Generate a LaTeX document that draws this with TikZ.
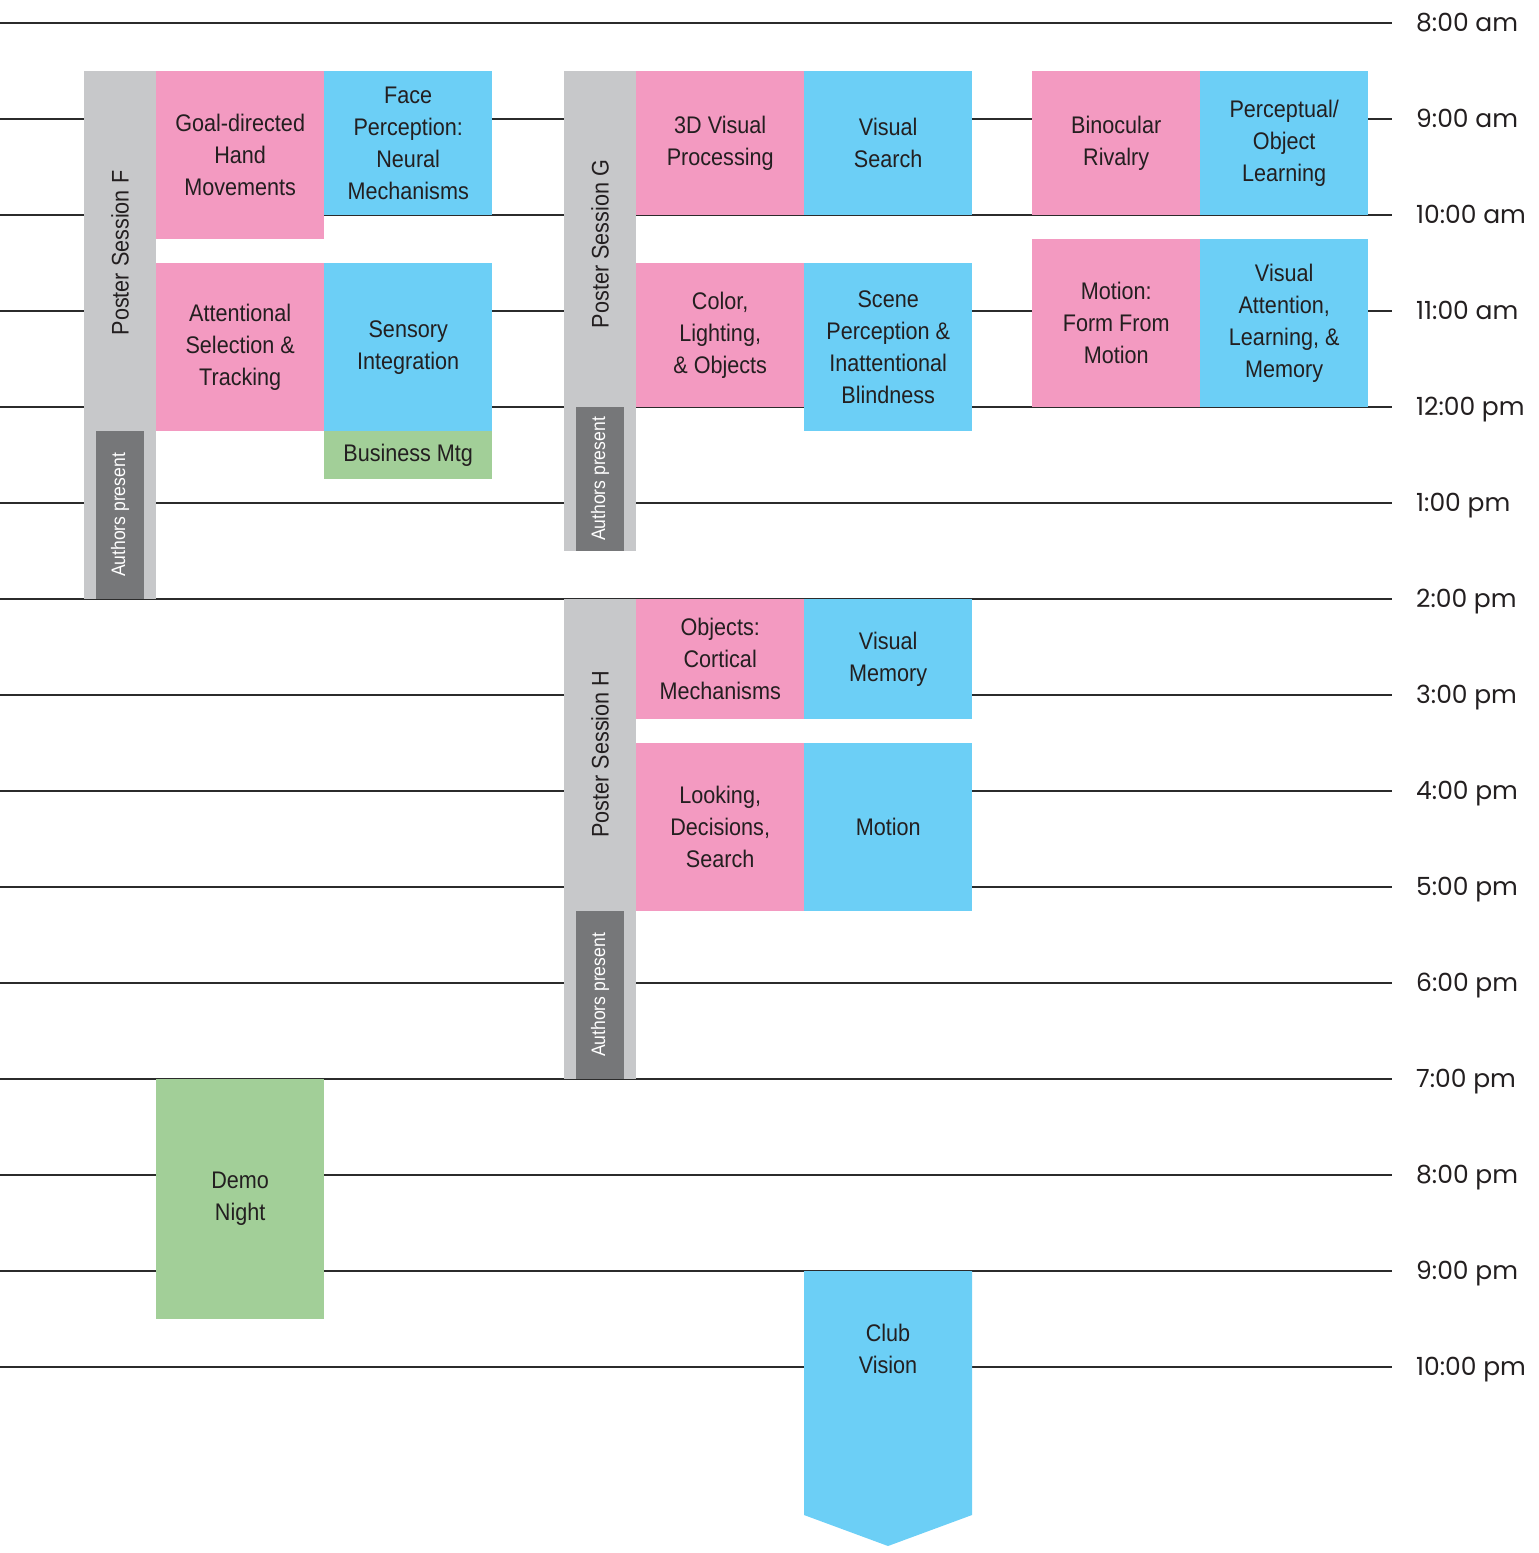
\documentclass[tikz,border=0pt]{standalone}
\usepackage{fontspec}
\setmainfont{Liberation Sans}
\newfontfamily\boxfont[FakeStretch=0.9]{Liberation Sans}
\newfontfamily\timefont{Poppins}
\definecolor{pinkc}{HTML}{F39AC1}
\definecolor{bluec}{HTML}{6CCFF6}
\definecolor{greenc}{HTML}{A2CF98}
\definecolor{lgray}{HTML}{C7C8CA}
\definecolor{dgray}{HTML}{767779}
\definecolor{ink}{HTML}{231F20}
\definecolor{linec}{HTML}{2B2B2B}
\tikzset{
  hline/.style={draw=linec, line width=1.4pt},
  slot/.style={anchor=north west, inner sep=0pt, minimum width=168pt, align=center,
    text=ink, font=\boxfont\fontsize{24}{32}\selectfont},
  pinkbox/.style={slot, fill=pinkc},
  bluebox/.style={slot, fill=bluec},
  greenbox/.style={slot, fill=greenc},
  postercol/.style={anchor=north west, inner sep=0pt, fill=lgray, minimum width=72pt},
  authcol/.style={anchor=north west, inner sep=0pt, fill=dgray, minimum width=48pt},
  postertext/.style={rotate=90, text=ink, font=\boxfont\fontsize{24}{28}\selectfont},
  authtext/.style={rotate=90, text=white, font=\boxfont\fontsize{19.5}{22}\selectfont},
  timelabel/.style={anchor=base west, inner sep=0pt, text=ink, font=\timefont\fontsize{25}{28}\selectfont},
}
\begin{document}
\begin{tikzpicture}[x=1pt,y=-1pt]
\useasboundingbox (0,0) rectangle (1539,1553);
% hour lines and labels
\foreach \i/\lab in {0/8:00 am,1/9:00 am,2/10:00 am,3/11:00 am,4/12:00 pm,5/1:00 pm,6/2:00 pm,7/3:00 pm,8/4:00 pm,9/5:00 pm,10/6:00 pm,11/7:00 pm,12/8:00 pm,13/9:00 pm,14/10:00 pm}{
  \pgfmathsetmacro{\yy}{23+96*\i}
  \draw[hline] (0,\yy) -- (1392,\yy);
  \node[timelabel] (t\i) at (1416,\yy+8.5) {\lab};
}
% Poster Session F
\node[postercol, minimum height=528pt] (colF) at (84,71) {};
\node[authcol, minimum height=168pt] (authF) at (96,431) {};
\node[postertext] (labF) at (120,253) {Poster Session F};
\node[authtext] (alabF) at (120,515) {Authors present};
\node[pinkbox, minimum height=168pt] (goal) at (156,71) {Goal-directed\\Hand\\Movements};
\node[bluebox, minimum height=144pt] (face) at (324,71) {Face\\Perception:\\Neural\\Mechanisms};
\node[pinkbox, minimum height=168pt] (attn) at (156,263) {Attentional\\Selection \&\\Tracking};
\node[bluebox, minimum height=168pt] (sens) at (324,263) {Sensory\\Integration};
\node[greenbox, minimum height=48pt] (biz) at (324,431) {Business Mtg};
% Poster Session G
\node[postercol, minimum height=480pt] (colG) at (564,71) {};
\node[authcol, minimum height=144pt] (authG) at (576,407) {};
\node[postertext] (labG) at (600,244) {Poster Session G};
\node[authtext] (alabG) at (600,479) {Authors present};
\node[pinkbox, minimum height=144pt] (threed) at (636,71) {3D Visual\\Processing};
\node[bluebox, minimum height=144pt] (vsearch) at (804,71) {Visual\\Search};
\node[pinkbox, minimum height=144pt] (color) at (636,263) {Color,\\Lighting,\\\& Objects};
\node[bluebox, minimum height=168pt] (scene) at (804,263) {Scene\\Perception \&\\Inattentional\\Blindness};
\node[pinkbox, minimum height=144pt] (bino) at (1032,71) {Binocular\\Rivalry};
\node[bluebox, minimum height=144pt] (perc) at (1200,71) {Perceptual/\\Object\\Learning};
\node[pinkbox, minimum height=168pt] (mform) at (1032,239) {Motion:\\Form From\\Motion};
\node[bluebox, minimum height=168pt] (vatt) at (1200,239) {Visual\\Attention,\\Learning, \&\\Memory};
% Poster Session H
\node[postercol, minimum height=480pt] (colH) at (564,599) {};
\node[authcol, minimum height=168pt] (authH) at (576,911) {};
\node[postertext] (labH) at (600,754) {Poster Session H};
\node[authtext] (alabH) at (600,995) {Authors present};
\node[pinkbox, minimum height=120pt] (objc) at (636,599) {Objects:\\Cortical\\Mechanisms};
\node[bluebox, minimum height=120pt] (vmem) at (804,599) {Visual\\Memory};
\node[pinkbox, minimum height=168pt] (look) at (636,743) {Looking,\\Decisions,\\Search};
\node[bluebox, minimum height=168pt] (motion) at (804,743) {Motion};
% Evening
\node[greenbox, minimum height=240pt] (demo) at (156,1079) {Demo\\Night};
\fill[bluec] (804,1271) -- (972,1271) -- (972,1515) -- (888,1546) -- (804,1515) -- cycle;
\node[align=center, inner sep=0pt, text=ink, font=\boxfont\fontsize{24}{32}\selectfont] (club) at (888,1349) {Club\\Vision};
\end{tikzpicture}
\end{document}
